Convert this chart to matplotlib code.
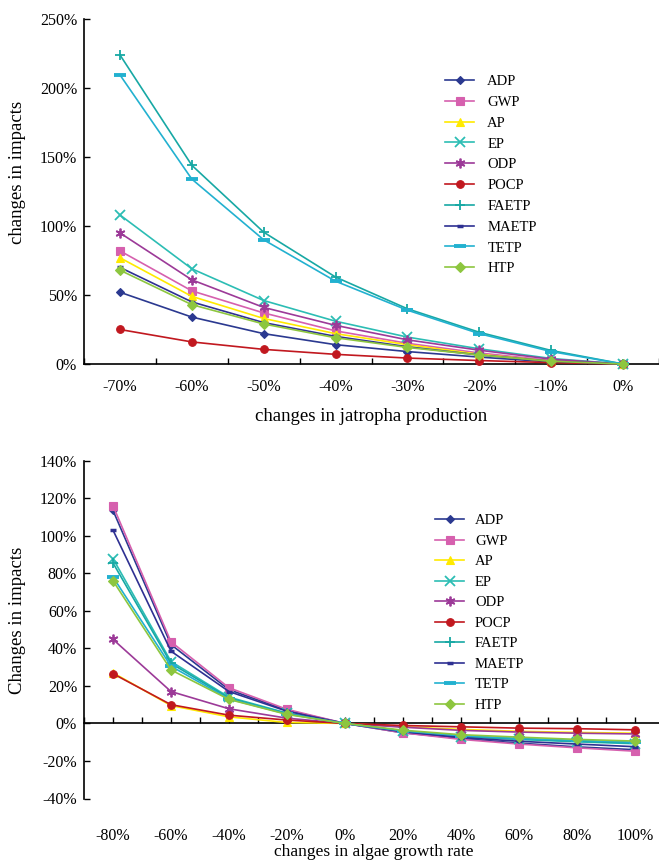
import matplotlib
matplotlib.use('Agg')
import matplotlib.pyplot as plt
import numpy as np

plt.rcParams['font.family'] = ['Liberation Serif', 'DejaVu Serif']

# ---------------- data ----------------
series_names = ['ADP', 'GWP', 'AP', 'EP', 'ODP', 'POCP', 'FAETP', 'MAETP', 'TETP', 'HTP']

top_categories = ['-70%', '-60%', '-50%', '-40%', '-30%', '-20%', '-10%', '0%']
top_ADP = [52, 34, 22, 14, 9, 5, 1.5, 0]
top_GWP = [82, 53, 37, 24, 15, 8, 2.5, 0]
top_AP = [77, 49, 33, 22, 14, 7, 2, 0]
top_EP = [108, 69, 46, 31, 19.5, 11, 4, 0]
top_ODP = [95, 61, 41, 28, 17.5, 10, 3.5, 0]
top_POCP = [25, 16, 10.6, 7, 4.3, 2.5, 1, 0]
top_FAETP = [224, 144, 95.5, 63, 40, 23, 9.8, 0]
top_MAETP = [70, 45, 30, 20, 12.5, 6.5, 2, 0]
top_TETP = [209.5, 134, 90, 60, 39, 22, 9, 0]
top_HTP = [68, 43, 29, 19, 12, 6.5, 2, 0]
top_yticks = [0, 50, 100, 150, 200, 250]
top_ytick_labels = ['0%', '50%', '100%', '150%', '200%', '250%']

bot_categories = ['-80%', '-60%', '-40%', '-20%', '0%', '20%', '40%', '60%', '80%', '100%']
bot_ADP = [113.5, 42, 18, 7, 0, -5, -8, -10.5, -12.5, -14]
bot_GWP = [116, 43.5, 19, 7.5, 0, -5, -8.5, -11, -13, -14.8]
bot_AP = [27, 9.5, 3.5, 0.5, 0, -1.8, -3.2, -4.2, -4.8, -5.2]
bot_EP = [87.8, 33, 14, 5.5, 0, -4.2, -7, -8.5, -9.8, -10.8]
bot_ODP = [44.8, 17, 7.8, 2.8, 0, -2, -3.7, -4.6, -5.2, -5.6]
bot_POCP = [26.5, 10, 4.4, 1.8, 0, -1.1, -1.8, -2.5, -2.8, -3.4]
bot_FAETP = [85.5, 32, 13.5, 5.3, 0, -4, -6.8, -8.3, -9.5, -10.5]
bot_MAETP = [103, 38.5, 17, 6.5, 0, -4.5, -7.5, -9.5, -11, -12.4]
bot_TETP = [78, 30.5, 13, 5, 0, -4, -6.5, -8, -9, -10]
bot_HTP = [76, 28.5, 12.8, 4.8, 0, -3.6, -6, -7.3, -8.5, -9.4]
bot_yticks = [-40, -20, 0, 20, 40, 60, 80, 100, 120, 140]
bot_ytick_labels = ['-40%', '-20%', '0%', '20%', '40%', '60%', '80%', '100%', '120%', '140%']

top_values = [top_ADP, top_GWP, top_AP, top_EP, top_ODP, top_POCP, top_FAETP, top_MAETP, top_TETP, top_HTP]
bot_values = [bot_ADP, bot_GWP, bot_AP, bot_EP, bot_ODP, bot_POCP, bot_FAETP, bot_MAETP, bot_TETP, bot_HTP]

# ---------------- styles ----------------
styles = {
    'ADP':   dict(color='#2B3990', marker='D', ms=4.5, mew=0.8),
    'GWP':   dict(color='#D660AE', marker='s', ms=5.5, mew=0.8),
    'AP':    dict(color='#FFEA00', marker='^', ms=6, mew=0.8),
    'EP':    dict(color='#2CBDB4', marker='x', ms=6.5, mew=1.3),
    'ODP':   dict(color='#9C3A98', marker=(6, 2, 0), ms=7, mew=1.3),
    'POCP':  dict(color='#C1181F', marker='o', ms=5.5, mew=0.8),
    'FAETP': dict(color='#17A8A4', marker='+', ms=7.5, mew=1.3),
    'MAETP': dict(color='#2E3092', marker='_', ms=5, mew=2.5),
    'TETP':  dict(color='#22B1D0', marker='_', ms=8, mew=2.8),
    'HTP':   dict(color='#8DC63F', marker='D', ms=5, mew=0.8),
}

W, H = 659, 860
fig = plt.figure(figsize=(W / 100, H / 100), dpi=100)

TICK_FS = 11.5
LABEL_FS = 13.5
LEG_FS = 10.5


def draw(ax, cats, values):
    xs = np.arange(len(cats))
    for name, vals in zip(series_names, values):
        st = styles[name]
        ax.plot(xs, vals, color=st['color'], lw=1.2, marker=st['marker'],
                ms=st['ms'], mew=st['mew'], mec=st['color'], mfc=st['color'],
                label=name, clip_on=False, zorder=3)
    return xs


# ---------------- top chart ----------------
ax1 = fig.add_axes([84 / W, 1 - 364 / H, 575 / W, (364 - 19) / H])
xs = draw(ax1, top_categories, top_values)
ax1.set_xlim(-0.5, len(top_categories) - 0.5)
ax1.set_ylim(0, 250)
ax1.set_yticks(top_yticks)
ax1.set_yticklabels(top_ytick_labels)
ax1.set_xticks(xs)
ax1.set_xticklabels(top_categories)
ax1.set_xticks(np.arange(-0.5, len(top_categories), 1), minor=True)
ax1.tick_params(axis='x', which='major', length=0, pad=11, labelsize=TICK_FS)
ax1.tick_params(axis='x', which='minor', length=4, direction='in', width=1)
ax1.tick_params(axis='y', length=4, direction='in', width=1, pad=5, labelsize=TICK_FS)
for s in ['top', 'right']:
    ax1.spines[s].set_visible(False)
for s in ['left', 'bottom']:
    ax1.spines[s].set_linewidth(1.2)
ax1.set_xlabel('changes in jatropha production', fontsize=LABEL_FS, labelpad=9)
ax1.set_ylabel('changes in impacts', fontsize=LABEL_FS)
ax1.yaxis.set_label_coords(-0.101, 0.554)
ax1.legend(loc='upper left', bbox_to_anchor=(445 / W, 1 - 75 / H),
           bbox_transform=fig.transFigure, frameon=False, fontsize=LEG_FS,
           handlelength=2.0, handletextpad=0.9, labelspacing=0.52,
           borderpad=0, borderaxespad=0)

# ---------------- bottom chart ----------------
ax2 = fig.add_axes([84 / W, 1 - 798.5 / H, 580 / W, (798.5 - 460.7) / H])
xs2 = draw(ax2, bot_categories, bot_values)
ax2.set_xlim(-0.5, len(bot_categories) - 0.5)
ax2.set_ylim(-40, 140)
ax2.set_yticks(bot_yticks)
ax2.set_yticklabels(bot_ytick_labels)
ax2.tick_params(axis='y', length=4, direction='in', width=1, pad=5, labelsize=TICK_FS)
ax2.spines['bottom'].set_position(('data', 0))
ax2.spines['bottom'].set_linewidth(1.2)
ax2.spines['left'].set_linewidth(1.2)
for s in ['top', 'right']:
    ax2.spines[s].set_visible(False)
ax2.set_xticks(np.arange(-0.5, len(bot_categories), 0.5))
ax2.tick_params(axis='x', which='major', length=4, direction='in', width=1,
                labelbottom=False)
sec = ax2.secondary_xaxis('bottom')
sec.set_xticks(xs2)
sec.set_xticklabels(bot_categories)
sec.tick_params(length=0, pad=21, labelsize=TICK_FS)
sec.spines['bottom'].set_visible(False)
sec.set_xlabel('changes in algae growth rate', fontsize=12.5, labelpad=0)
ax2.set_ylabel('Changes in impacts', fontsize=LABEL_FS)
ax2.yaxis.set_label_coords(-0.1, 0.528)
ax2.legend(loc='upper left', bbox_to_anchor=(435 / W, 1 - 514 / H),
           bbox_transform=fig.transFigure, frameon=False, fontsize=LEG_FS,
           handlelength=2.0, handletextpad=0.75, labelspacing=0.5,
           borderpad=0, borderaxespad=0)

fig.savefig('out.png', dpi=100)
